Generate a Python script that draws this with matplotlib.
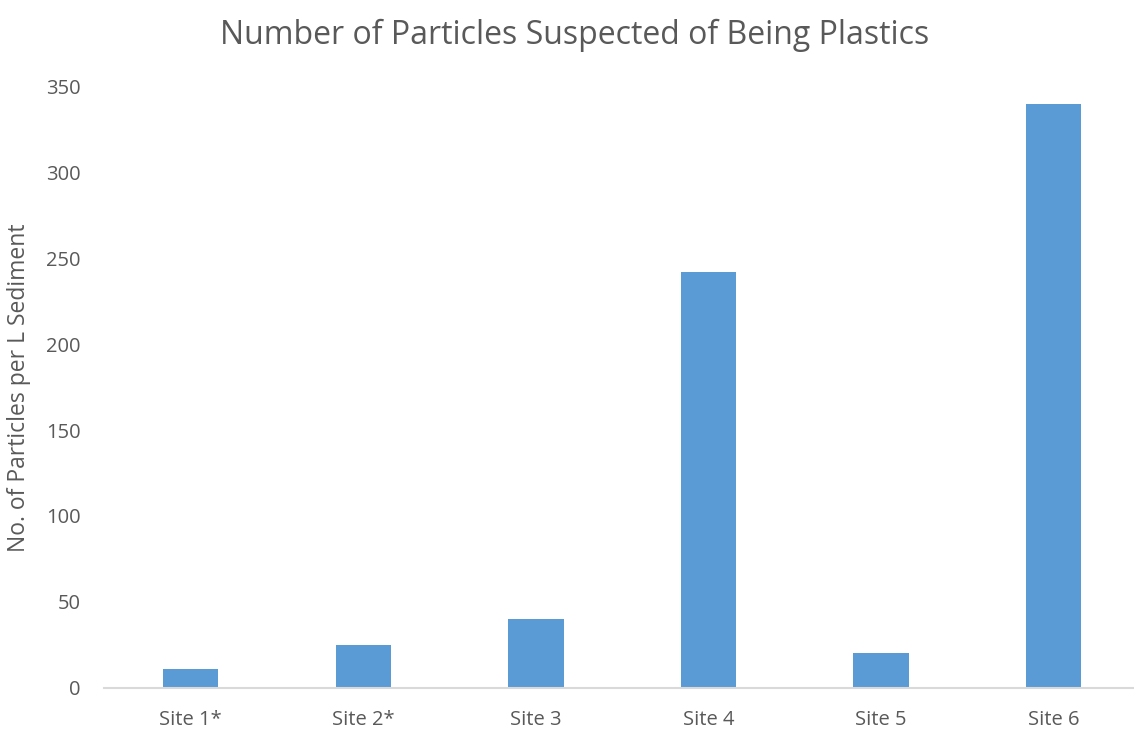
import matplotlib
matplotlib.use("Agg")
import matplotlib.pyplot as plt

sites = ["Site 1*", "Site 2*", "Site 3", "Site 4", "Site 5", "Site 6"]
particles_per_litre = [11, 25, 40, 242, 20, 340]
y_ticks = [0, 50, 100, 150, 200, 250, 300, 350]

text_color = "#595959"
bar_color = "#5B9BD5"

plt.rcParams["font.family"] = ["Open Sans", "DejaVu Sans"]

W, H = 1134, 729
fig = plt.figure(figsize=(W / 100, H / 100), dpi=100)
left, right = 104.4, 1140.0
bottom_px, top_px = 687.5, 87.0
ax = fig.add_axes([left / W, (H - bottom_px) / H, (right - left) / W, (bottom_px - top_px) / H])

x = range(len(sites))
ax.bar(x, particles_per_litre, width=0.32, color=bar_color, zorder=2)

ax.set_xlim(-0.5, len(sites) - 0.5)
ax.set_ylim(0, 350)
ax.set_yticks(y_ticks)
ax.set_xticks(list(x))
ax.set_xticklabels(sites)

for side in ("left", "right", "top"):
    ax.spines[side].set_visible(False)
ax.spines["bottom"].set_color("#D9D9D9")
ax.spines["bottom"].set_linewidth(1.5)

ax.tick_params(axis="both", length=0, labelsize=14.5, colors=text_color)
ax.tick_params(axis="y", pad=17)
ax.tick_params(axis="x", pad=16)

ax.set_ylabel("No. of Particles per L Sediment", fontsize=16.5, color=text_color)
ax.yaxis.set_label_coords(-(left - 31) / (right - left), (bottom_px - 388) / (bottom_px - top_px))

fig.text(575 / W, 1 - 35 / H, "Number of Particles Suspected of Being Plastics",
         ha="center", va="center", fontsize=23, color=text_color)

fig.savefig("out.png", dpi=100, facecolor="white")
